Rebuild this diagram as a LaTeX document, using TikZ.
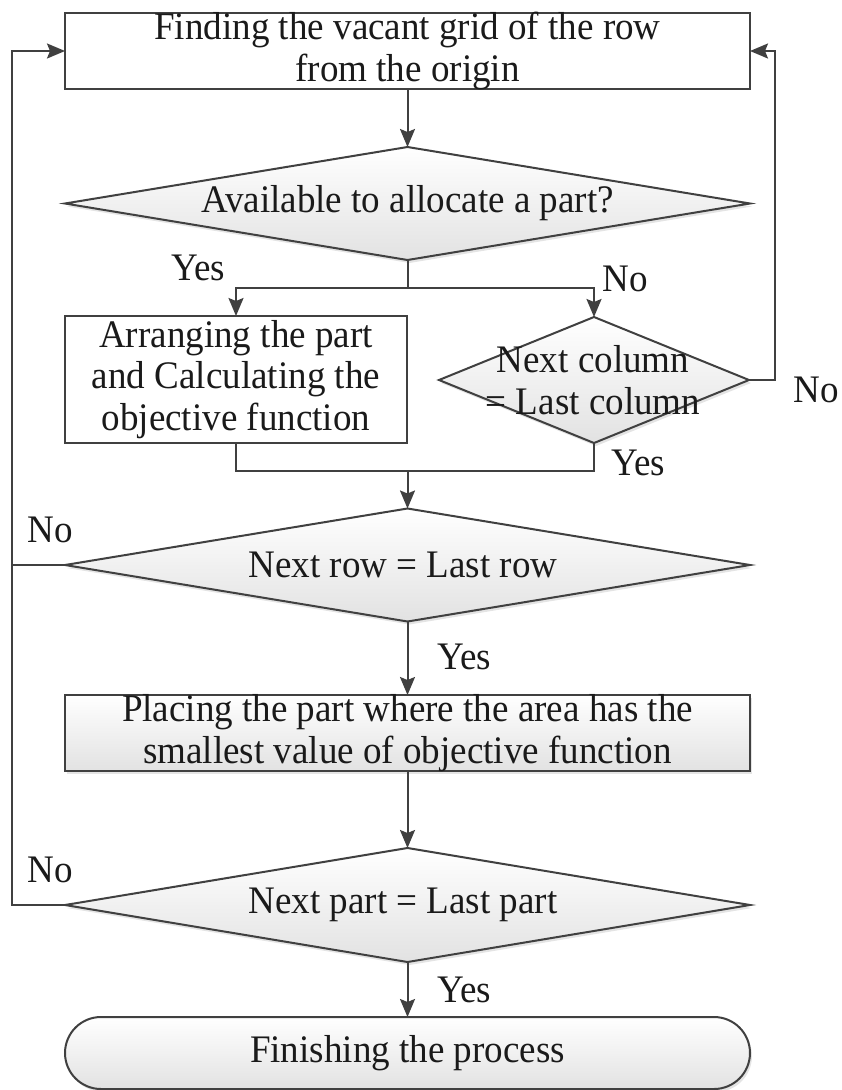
\documentclass[tikz,border=0pt]{standalone}
\usepackage{fontspec}
\setmainfont{Liberation Serif}[FakeStretch=0.95]
\usetikzlibrary{shapes.geometric,arrows.meta,shadows}
\definecolor{ln}{HTML}{404040}
\definecolor{sh}{HTML}{E2E2E2}
\definecolor{tx}{HTML}{1A1A1A}
\begin{document}
\begin{tikzpicture}[x=1pt,y=-1pt,
  every node/.style={font=\fontsize{39}{41.5}\selectfont, inner sep=0pt, outer sep=0pt, align=center, text=tx},
  plainbox/.style={draw=ln, line width=2pt, rectangle, fill=white},
  softshadow/.style={drop shadow={shadow xshift=2pt, shadow yshift=-3pt, fill=black!30, opacity=0.35}},
  gradbox/.style={draw=ln, line width=2pt, rectangle, top color=white, bottom color=sh, softshadow},
  dia/.style={draw=ln, line width=2pt, diamond, top color=white, bottom color=sh, softshadow},
  term/.style={draw=ln, line width=2pt, rectangle, rounded corners=36pt, top color=white, bottom color=sh, softshadow},
  conn/.style={draw=ln, line width=2pt},
  arr/.style={conn, -{Stealth[length=18pt,width=15pt,inset=3pt]}},
]
\useasboundingbox (0,0) rectangle (842,1090);

% boxes and decisions
\node[plainbox, minimum width=685pt, minimum height=76pt] (b1) at (407.5,51) {};
\node (tb1) at (b1) {Finding the vacant grid of the row\\from the origin};

\node[dia, minimum width=685pt, minimum height=113pt] (d1) at (407.5,203.5) {};
\node (t1) at (d1) {Available to allocate a part?};

\node[plainbox, minimum width=342pt, minimum height=127pt] (b2) at (236,379.5) {};
\node (tb2) at (b2) {Arranging the part\\and Calculating the\\objective function};

\node[dia, minimum width=310pt, minimum height=126pt] (d2) at (594,380) {};
\node (t2) at (593,380) {Next column\\= Last column};

\node[dia, minimum width=685pt, minimum height=113pt] (d3) at (407.5,565) {};
\node (t3) at (403,565) {Next row = Last row};

\node[gradbox, minimum width=685pt, minimum height=76pt] (b3) at (407.5,733) {};
\node (tb3) at (b3) {Placing the part where the area has the\\smallest value of objective function};

\node[dia, minimum width=685pt, minimum height=114pt] (d4) at (407.5,905) {};
\node (t4) at (403,905) {Next part = Last part};

\node[term, minimum width=685pt, minimum height=72pt] (e) at (407.5,1053) {};
\node (te) at (e) {Finishing the process};

% helper coordinates
\coordinate (br) at (407.5,288);
\coordinate (bl) at (236,288);
\coordinate (brr) at (594,288);
\coordinate (jl) at (236,471);
\coordinate (jr) at (594,471);
\coordinate (jn) at (407.5,471);
\coordinate (rr) at (775,380);
\coordinate (rt) at (775,51);
\coordinate (l3) at (12,565);
\coordinate (l4) at (12,905);
\coordinate (l0) at (12,51);

% connectors
\draw[arr] (b1) -- (d1);
\draw[conn] (d1.south) -- (br);
\draw[arr] (br) -- (bl) -- (b2.north);
\draw[arr] (br) -- (brr) -- (d2.north);
\draw[conn] (b2.south) -- (jl) -- (jr) -- (d2.south);
\draw[arr] (jn) -- (d3.north);
\draw[arr] (d2.east) -- (rr) -- (rt) -- (b1.east);
\draw[arr] (d3.south) -- (b3.north);
\draw[arr] (b3.south) -- (d4.north);
\draw[arr] (d4.south) -- (e.north);
\draw[conn] (d3.west) -- (l3);
\draw[arr] (d4.west) -- (l4) -- (l0) -- (b1.west);

% labels
\node (y1) at (198,268) {Yes};
\node (n1) at (625,279) {No};
\node (n2) at (816,390) {No};
\node (y2) at (638,463) {Yes};
\node (n3) at (50,530) {No};
\node (y3) at (464,657) {Yes};
\node (n4) at (50,870) {No};
\node (y4) at (464,990) {Yes};
\end{tikzpicture}
\end{document}
